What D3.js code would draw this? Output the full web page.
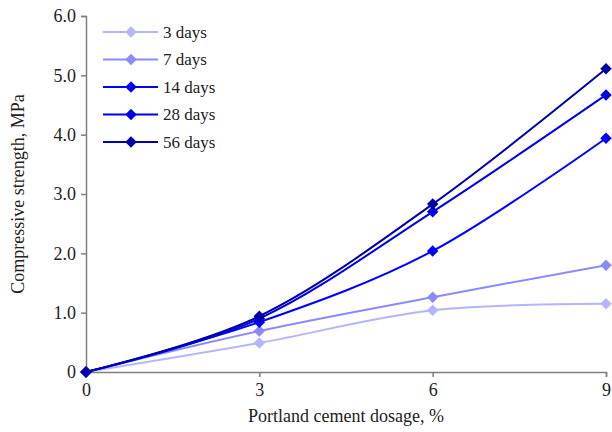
<!DOCTYPE html>
<html>
<head>
<meta charset="utf-8">
<script src="https://cdn.jsdelivr.net/npm/d3@7"></script>
<style>
  body { margin: 0; background: #fff; }
</style>
</head>
<body>
<div id="chart"></div>
<script>
// data
var dosage = [0, 3, 6, 9];
var seriesNames = ["3 days", "7 days", "14 days", "28 days", "56 days"];
var days3 = [0, 0.49, 1.04, 1.15];
var days7 = [0, 0.69, 1.26, 1.80];
var days14 = [0, 0.84, 2.04, 3.94];
var days28 = [0, 0.90, 2.70, 4.67];
var days56 = [0, 0.94, 2.83, 5.11];
var yTicks = [0, 1, 2, 3, 4, 5, 6];
var xTicks = [0, 3, 6, 9];

var seriesValues = [days3, days7, days14, days28, days56];
var lineColors = ["#b4b4ff", "#8a8aff", "#0000ff", "#0000e8", "#0000a8"];
var serif = "Liberation Serif, Times New Roman, Times, Tinos, Nimbus Roman, FreeSerif, Noto Serif, DejaVu Serif, serif";

var width = 612, height = 432;
var margin = { top: 16, right: 6, bottom: 60, left: 86 };

var svg = d3.select("#chart").append("svg")
    .attr("width", width)
    .attr("height", height)
    .style("font-family", serif);

var x = d3.scaleLinear().domain([0, 9]).range([margin.left, width - margin.right]);
var y = d3.scaleLinear().domain([0, 6]).range([height - margin.bottom, margin.top]);

// axes
var xAxis = svg.append("g")
    .attr("transform", "translate(0," + y(0) + ")")
    .call(d3.axisBottom(x).tickValues(xTicks).tickSize(5).tickPadding(6).tickFormat(d3.format("d")));
var yAxis = svg.append("g")
    .attr("transform", "translate(" + x(0) + ",0)")
    .call(d3.axisLeft(y).tickValues(yTicks).tickSize(5).tickPadding(5)
        .tickFormat(function(d) { return d === 0 ? "0" : d3.format(".1f")(d); }));

[xAxis, yAxis].forEach(function(ax) {
    ax.attr("font-family", null).attr("font-size", null);
    ax.select(".domain").attr("stroke", "#7f7f7f").attr("stroke-width", 1.5);
    ax.selectAll(".tick line").attr("stroke", "#7f7f7f").attr("stroke-width", 1.5);
    ax.selectAll(".tick text").attr("fill", "#222").style("font-family", serif).style("font-size", "18px");
});

// axis titles
svg.append("text")
    .attr("x", x(4.5))
    .attr("y", 422)
    .attr("text-anchor", "middle")
    .attr("fill", "#222")
    .style("font-family", serif)
    .style("font-size", "18px")
    .text("Portland cement dosage, %");

svg.append("text")
    .attr("transform", "translate(24," + y(3) + ") rotate(-90)")
    .attr("text-anchor", "middle")
    .attr("fill", "#222")
    .style("font-family", serif)
    .style("font-size", "18px")
    .text("Compressive strength, MPa");

// lines
var line = d3.line()
    .x(function(d, i) { return x(dosage[i]); })
    .y(function(d) { return y(d); })
    .curve(d3.curveCatmullRom.alpha(0));

var diamond = d3.symbol().type(d3.symbolSquare).size(66);

seriesValues.forEach(function(vals, s) {
    svg.append("path")
        .datum(vals)
        .attr("fill", "none")
        .attr("stroke", lineColors[s])
        .attr("stroke-width", 2)
        .attr("d", line);

    svg.selectAll(".pt" + s)
        .data(vals)
        .enter().append("path")
        .attr("transform", function(d, i) { return "translate(" + x(dosage[i]) + "," + y(d) + ") rotate(45)"; })
        .attr("fill", lineColors[s])
        .attr("d", diamond);
});

// legend
var legend = svg.append("g").attr("transform", "translate(103,32)");
seriesNames.forEach(function(name, s) {
    var row = legend.append("g").attr("transform", "translate(0," + s * 27.5 + ")");
    row.append("line")
        .attr("x1", 0).attr("x2", 55)
        .attr("stroke", lineColors[s]).attr("stroke-width", 2);
    row.append("path")
        .attr("transform", "translate(28,0) rotate(45)")
        .attr("fill", lineColors[s])
        .attr("d", diamond);
    row.append("text")
        .attr("x", 60)
        .attr("dy", "0.35em")
        .attr("fill", "#222")
        .style("font-family", serif)
        .style("font-size", "17px")
        .text(name);
});
</script>
</body>
</html>
